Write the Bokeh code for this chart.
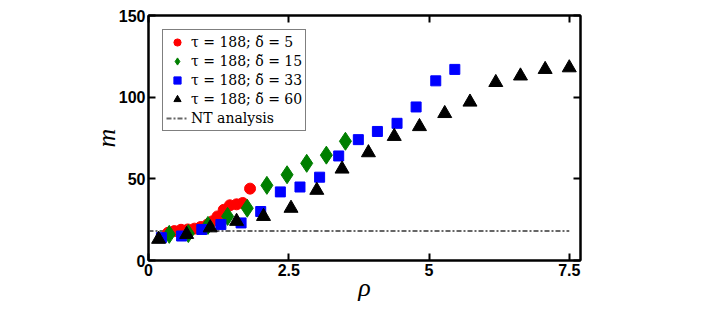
from bokeh.plotting import figure
from bokeh.models import Legend, LegendItem, LinearAxis, FixedTicker, Range1d
from bokeh.embed import file_html
from bokeh.resources import INLINE

# ---- data ----
rho_d5 = [0.35, 0.46, 0.58, 0.70, 0.82, 0.93, 1.05, 1.14, 1.23, 1.34, 1.45, 1.57, 1.68, 1.81]
m_d5 = [17, 18, 18.8, 19, 19.5, 20.5, 22, 24, 27, 31, 33.8, 34.4, 35.2, 44]

rho_d15 = [0.37, 0.71, 1.06, 1.41, 1.76, 2.11, 2.47, 2.82, 3.17, 3.51]
m_d15 = [16, 16.5, 21.5, 27, 32, 46, 52.5, 59.5, 64.5, 73]

rho_d33 = [0.23, 0.59, 0.95, 1.29, 1.65, 2.0, 2.35, 2.70, 3.05, 3.39, 3.74, 4.08, 4.43, 4.77, 5.12, 5.46]
m_d33 = [14, 15, 19, 22, 23, 30, 42, 45, 51, 64, 74, 79, 84, 94, 110, 117]

rho_d60 = [0.18, 0.68, 1.1, 1.57, 2.05, 2.54, 3.0, 3.45, 3.92, 4.38, 4.83, 5.28, 5.73, 6.19, 6.63, 7.07, 7.5]
m_d60 = [13, 16, 20, 24, 27, 32, 43, 56, 66, 76, 82, 90, 97, 109, 113, 117, 118]

rho_nt = [0, 7.5]
m_nt = [18, 18]

x_ticks = [0, 2.5, 5, 7.5]
x_tick_labels = {0: "0", 2.5: "2.5", 5: "5", 7.5: "7.5"}
y_ticks = [0, 50, 100, 150]

labels = ["τ = 188; δ̃ = 5", "τ = 188; δ̃ = 15", "τ = 188; δ̃ = 33", "τ = 188; δ̃ = 60", "NT analysis"]

p = figure(width=703, height=310, x_range=Range1d(0, 7.7), y_range=Range1d(0, 150),
           output_backend="svg", toolbar_location=None,
           min_border_left=148, min_border_right=123, min_border_top=15, min_border_bottom=50,
           x_axis_label="ρ", y_axis_label="m")
p.grid.visible = False
p.outline_line_color = "black"
p.outline_line_width = 2
p.background_fill_color = "white"
p.border_fill_color = "white"

for ax in [p.xaxis[0], p.yaxis[0]]:
    ax.axis_line_width = 2
    ax.major_tick_line_width = 2
    ax.major_tick_in = 7
    ax.major_tick_out = 0
    ax.minor_tick_line_color = None
    ax.major_label_text_font = "Liberation Sans"
    ax.major_label_text_font_style = "bold"
    ax.major_label_text_font_size = "16px"
    ax.major_label_text_color = "black"
    ax.axis_label_text_font = "Liberation Serif"
    ax.axis_label_text_font_style = "italic"
    ax.axis_label_text_font_size = "26px"
    ax.axis_label_text_color = "black"

p.xaxis[0].ticker = FixedTicker(ticks=x_ticks)
p.xaxis[0].major_label_overrides = x_tick_labels
p.xaxis[0].major_label_standoff = 3
p.xaxis[0].axis_label_standoff = -6
p.yaxis[0].ticker = FixedTicker(ticks=y_ticks)
p.yaxis[0].major_label_standoff = 3
p.yaxis[0].axis_label_standoff = -5

top = LinearAxis(ticker=FixedTicker(ticks=x_ticks), major_label_overrides={t: "" for t in x_ticks},
                 major_label_standoff=0, major_tick_in=7, major_tick_out=0,
                 major_tick_line_width=2, axis_line_width=2, minor_tick_line_color=None)
right = LinearAxis(ticker=FixedTicker(ticks=y_ticks), major_label_overrides={t: "" for t in y_ticks},
                   major_label_standoff=0, major_tick_in=7, major_tick_out=0,
                   major_tick_line_width=2, axis_line_width=2, minor_tick_line_color=None)
p.add_layout(top, "above")
p.add_layout(right, "right")

r_nt = p.line(rho_nt, m_nt, line_color="#666666", line_width=2, line_dash="5 2 2 2")
r5 = p.scatter(rho_d5, m_d5, marker="circle", size=11, fill_color="#ff0000", line_color="#ff0000")
r15 = p.scatter(rho_d15, m_d15, marker="diamond", size=18, fill_color="#007f00", line_color="#007f00")
r33 = p.scatter(rho_d33, m_d33, marker="square", size=10, fill_color="#0000ff", line_color="#0000ff")
r60 = p.scatter(rho_d60, m_d60, marker="triangle", size=14, fill_color="black", line_color="black")

legend = Legend(items=[LegendItem(label=labels[0], renderers=[r5]),
                       LegendItem(label=labels[1], renderers=[r15]),
                       LegendItem(label=labels[2], renderers=[r33]),
                       LegendItem(label=labels[3], renderers=[r60]),
                       LegendItem(label=labels[4], renderers=[r_nt])],
                location="top_left", margin=14, padding=3, spacing=1,
                label_height=18, glyph_height=18, glyph_width=22, label_standoff=3,
                label_text_font="DejaVu Serif", label_text_font_size="14px",
                label_text_color="black",
                border_line_color="black", border_line_width=1,
                background_fill_alpha=1.0)
p.add_layout(legend)

open("out.html", "w").write(file_html(p, INLINE))
